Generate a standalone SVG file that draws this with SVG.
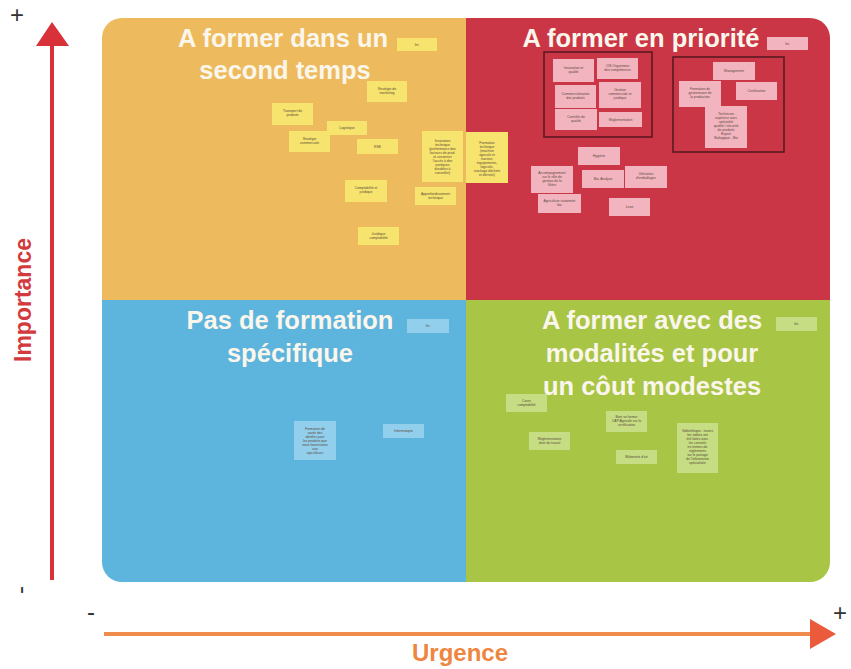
<svg xmlns="http://www.w3.org/2000/svg" width="851" height="669" viewBox="0 0 851 669">
<defs>
<style>
.title{font-family:"Liberation Sans",Arial,sans-serif;font-weight:bold;font-size:25.5px;fill:#FBF6EC;text-anchor:middle}
.note text{font-family:"Liberation Sans",Arial,sans-serif;font-size:3.4px;fill:#5a4a3a;text-anchor:middle}
.y rect{fill:#F6E46E}
.p rect{fill:#F2B4BF}
.b rect{fill:#92CFEC}
.g rect{fill:#C6DD84}
.grp{fill:none;stroke:#5C1A22;stroke-width:1.6}
.sign{font-family:"Liberation Sans",Arial,sans-serif;font-size:24px;fill:#333}
</style>
<clipPath id="board"><rect x="102" y="18" width="728" height="564" rx="20"/></clipPath>
<marker id="headV" viewBox="0 0 10 10" refX="5" refY="5" markerWidth="8" markerHeight="8" orient="auto"/>
</defs>
<rect width="851" height="669" fill="#ffffff"/>
<g id="board-bg" clip-path="url(#board)">
<rect x="102" y="18" width="364" height="282" fill="#EDBB5D"/>
<rect x="466" y="18" width="364" height="282" fill="#CB3646"/>
<rect x="102" y="300" width="364" height="282" fill="#5DB4DC"/>
<rect x="466" y="300" width="364" height="282" fill="#A8C545"/>
</g>
<g id="titles">
<text class="title" x="283" y="47">A former dans un</text>
<text class="title" x="285" y="79">second temps</text>
<text class="title" x="641" y="47">A former en priorité</text>
<text class="title" x="290" y="329">Pas de formation</text>
<text class="title" x="290" y="362">spécifique</text>
<text class="title" x="652" y="329">A former avec des</text>
<text class="title" x="652" y="362">modalités et pour</text>
<text class="title" x="652" y="395">un côut modestes</text>
</g>
<g id="groups">
<rect class="grp" x="544" y="52" width="108" height="85"/>
<rect class="grp" x="673" y="57" width="111" height="95"/>
</g>
<g id="notes-orange" class="y">
<g id="n-o0" class="note"><rect x="397" y="38" width="40" height="13"/><text x="417" y="45.5">Int.</text></g>
<g id="n-o1" class="note"><rect x="367" y="81" width="40" height="21"/><text x="387" y="90">Stratégie de</text><text x="387" y="94">marketing</text></g>
<g id="n-o2" class="note"><rect x="272" y="103" width="41" height="22"/><text x="292.5" y="112">Transport de</text><text x="292.5" y="116">produits</text></g>
<g id="n-o3" class="note"><rect x="327" y="121" width="40" height="14"/><text x="347" y="129">Logistique</text></g>
<g id="n-o4" class="note"><rect x="289" y="131" width="41" height="21"/><text x="309.5" y="140">Stratégie</text><text x="309.5" y="144">commerciale</text></g>
<g id="n-o5" class="note"><rect x="357" y="139" width="41" height="15"/><text x="377.5" y="147.5">RSE</text></g>
<g id="n-o6" class="note"><rect x="422" y="131" width="41" height="51"/><text x="442.5" y="142">Innovation</text><text x="442.5" y="146">technique</text><text x="442.5" y="150">(performance des</text><text x="442.5" y="154">facteurs de prod.</text><text x="442.5" y="158">et conserver</text><text x="442.5" y="162">l'accès à des</text><text x="442.5" y="166">pratiques</text><text x="442.5" y="170">durables à</text><text x="442.5" y="174">conseiller)</text></g>
<g id="n-o7" class="note"><rect x="345" y="180" width="42" height="22"/><text x="366" y="189">Comptabilité et</text><text x="366" y="193">juridique</text></g>
<g id="n-o8" class="note"><rect x="415" y="187" width="41" height="18"/><text x="435.5" y="194.5">Approfondissement</text><text x="435.5" y="198.5">technique</text></g>
<g id="n-o9" class="note"><rect x="358" y="227" width="41" height="18"/><text x="378.5" y="234.5">Juridique</text><text x="378.5" y="238.5">comptabilité</text></g>
<g id="n-o10" class="note"><rect x="466" y="132" width="42" height="51"/><text x="487" y="144">Formation</text><text x="487" y="148">technique</text><text x="487" y="152">(machine</text><text x="487" y="156">agricole et</text><text x="487" y="160">tracteur,</text><text x="487" y="164">équipements,</text><text x="487" y="168">logiciels,</text><text x="487" y="172">stockage déchets</text><text x="487" y="176">et dérivés)</text></g>
</g>
<g id="notes-red" class="p">
<g id="n-r0" class="note"><rect x="767" y="37" width="41" height="13"/><text x="787.5" y="44.5">Int.</text></g>
<g id="n-r1" class="note"><rect x="553" y="59" width="41" height="23"/><text x="573.5" y="69">Innovation et</text><text x="573.5" y="73">qualité</text></g>
<g id="n-r2" class="note"><rect x="597" y="58" width="41" height="21"/><text x="617.5" y="67">CIS Organisme</text><text x="617.5" y="71">des compétences</text></g>
<g id="n-r3" class="note"><rect x="555" y="85" width="41" height="23"/><text x="575.5" y="95">Commercialisation</text><text x="575.5" y="99">des produits</text></g>
<g id="n-r4" class="note"><rect x="599" y="82" width="42" height="26"/><text x="620" y="91">Gestion</text><text x="620" y="95">commerciale et</text><text x="620" y="99">juridique</text></g>
<g id="n-r5" class="note"><rect x="555" y="109" width="42" height="21"/><text x="576" y="118">Contrôle de</text><text x="576" y="122">qualité</text></g>
<g id="n-r6" class="note"><rect x="599" y="112" width="43" height="15"/><text x="620.5" y="120.5">Réglementation</text></g>
<g id="n-r7" class="note"><rect x="713" y="62" width="42" height="18"/><text x="734" y="72">Management</text></g>
<g id="n-r8" class="note"><rect x="679" y="81" width="42" height="26"/><text x="700" y="90">Formation de</text><text x="700" y="94">gestionnaire de</text><text x="700" y="98">la production</text></g>
<g id="n-r9" class="note"><rect x="736" y="82" width="41" height="18"/><text x="756.5" y="92">Certification</text></g>
<g id="n-r10" class="note"><rect x="705" y="106" width="42" height="42"/><text x="726" y="115">Technicien</text><text x="726" y="119">supérieur avec</text><text x="726" y="123">spécialité</text><text x="726" y="127">qualité / sécurité</text><text x="726" y="131">de produits</text><text x="726" y="135">Expert</text><text x="726" y="139">Biologique - Bio</text></g>
<g id="n-r11" class="note"><rect x="578" y="147" width="42" height="18"/><text x="599" y="157">Hygiène</text></g>
<g id="n-r12" class="note"><rect x="531" y="166" width="42" height="27"/><text x="552" y="174">Accompagnement</text><text x="552" y="178">sur le rôle de</text><text x="552" y="182">gestion de la</text><text x="552" y="186">filière</text></g>
<g id="n-r13" class="note"><rect x="582" y="170" width="42" height="18"/><text x="603" y="180">Bio, Analyse</text></g>
<g id="n-r14" class="note"><rect x="625" y="166" width="42" height="22"/><text x="646" y="175">Utilisation</text><text x="646" y="179">d'emballages</text></g>
<g id="n-r15" class="note"><rect x="538" y="194" width="43" height="19"/><text x="559.5" y="202">Agriculture raisonnée</text><text x="559.5" y="206">bio</text></g>
<g id="n-r16" class="note"><rect x="609" y="198" width="41" height="18"/><text x="629.5" y="208">Lean</text></g>
</g>
<g id="notes-blue" class="b">
<g id="n-b0" class="note"><rect x="407" y="319" width="42" height="14"/><text x="428" y="327">Int.</text></g>
<g id="n-b1" class="note"><rect x="294" y="421" width="42" height="39"/><text x="315" y="430">Formation de</text><text x="315" y="434">santé des</text><text x="315" y="438">abeilles pour</text><text x="315" y="442">les produits que</text><text x="315" y="446">nous fournissons</text><text x="315" y="450">aux</text><text x="315" y="454">apiculteurs</text></g>
<g id="n-b2" class="note"><rect x="383" y="424" width="41" height="14"/><text x="403.5" y="432">Informatique</text></g>
</g>
<g id="notes-green" class="g">
<g id="n-g0" class="note"><rect x="776" y="317" width="41" height="14"/><text x="796.5" y="325">Int.</text></g>
<g id="n-g1" class="note"><rect x="506" y="394" width="41" height="18"/><text x="526.5" y="402">Cours</text><text x="526.5" y="406">comptabilité</text></g>
<g id="n-g2" class="note"><rect x="606" y="411" width="41" height="21"/><text x="626.5" y="418">Bien se former</text><text x="626.5" y="422">CAP Agricole sur la</text><text x="626.5" y="426">certification</text></g>
<g id="n-g3" class="note"><rect x="529" y="432" width="41" height="18"/><text x="549.5" y="440">Réglementation</text><text x="549.5" y="444">droit du travail</text></g>
<g id="n-g4" class="note"><rect x="616" y="450" width="41" height="14"/><text x="636.5" y="458">Bâtiments d'art</text></g>
<g id="n-g5" class="note"><rect x="677" y="423" width="41" height="50"/><text x="697.5" y="432">Vidéothèque - toutes</text><text x="697.5" y="436">les vidéos ont</text><text x="697.5" y="440">été faites avec</text><text x="697.5" y="444">les conseils</text><text x="697.5" y="448">en termes de</text><text x="697.5" y="452">règlements</text><text x="697.5" y="456">sur le partage</text><text x="697.5" y="460">de l'information</text><text x="697.5" y="464">spécialisée</text></g>
</g>
<g id="axes">
<line x1="52" y1="44" x2="52" y2="580" stroke="#D8313A" stroke-width="4"/>
<polygon points="52,22 36,46 69,46" fill="#D8313A"/>
<text class="sign" x="10" y="23">+</text>
<text class="sign" transform="translate(20 590) rotate(-90)" text-anchor="middle" y="8">-</text>
<text transform="translate(31 300) rotate(-90)" text-anchor="middle" font-family="Liberation Sans, Arial, sans-serif" font-weight="bold" font-size="23" fill="#D33A3E">Importance</text>
<line x1="104" y1="634" x2="812" y2="634" stroke="#F08B4E" stroke-width="4"/>
<polygon points="810,619 836,634 810,649" fill="#EB5B3B"/>
<text class="sign" x="87" y="620">-</text>
<text class="sign" x="833" y="621">+</text>
<text x="460" y="661" text-anchor="middle" font-family="Liberation Sans, Arial, sans-serif" font-weight="bold" font-size="24" fill="#EE8640">Urgence</text>
</g>
</svg>
